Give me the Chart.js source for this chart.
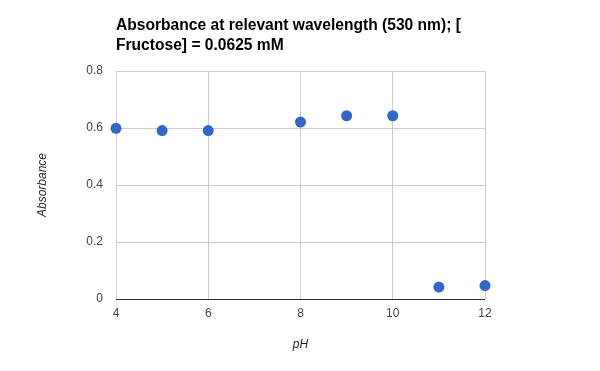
<!DOCTYPE html>
<html>
<head>
<meta charset="utf-8">
<script src="https://cdn.jsdelivr.net/npm/chart.js@4/dist/chart.umd.min.js"></script>
<style>
html,body{margin:0;padding:0;background:#fff;}
#wrap{width:600px;height:371px;position:relative;}
</style>
</head>
<body>
<div id="wrap"><canvas id="c" width="600" height="371"></canvas></div>
<script>
const titleLines = ["Absorbance at relevant wavelength (530 nm); [", "Fructose] = 0.0625 mM"];
const xAxisTitle = "pH";
const yAxisTitle = "Absorbance";
const phValues = [4, 5, 6, 8, 9, 10, 11, 12];
const absorbance = [0.599, 0.591, 0.591, 0.621, 0.643, 0.643, 0.042, 0.047];
const xTicks = [4, 6, 8, 10, 12];
const yTicks = [0, 0.2, 0.4, 0.6, 0.8];

const titlePlugin = {
  id: 'leftTitle',
  afterDraw(chart) {
    const ctx = chart.ctx;
    ctx.save();
    ctx.font = 'bold 15.6px "Liberation Sans", Arial, sans-serif';
    ctx.fillStyle = '#000';
    ctx.textBaseline = 'middle';
    ctx.textAlign = 'left';
    titleLines.forEach((t, i) => ctx.fillText(t, chart.chartArea.left, 25.5 + i * 20.5));
    ctx.restore();
  }
};

new Chart(document.getElementById('c'), {
  type: 'scatter',
  data: {
    datasets: [{
      data: phValues.map((x, i) => ({x: x, y: absorbance[i]})),
      backgroundColor: '#3366cc',
      borderWidth: 0,
      pointRadius: 5.5,
      pointHoverRadius: 5.5,
      clip: false
    }]
  },
  options: {
    responsive: false,
    animation: false,
    layout: {padding: {top: 71, right: 115, bottom: 0, left: 0}},
    plugins: {legend: {display: false}, tooltip: {enabled: false}, title: {display: false}},
    scales: {
      x: {
        type: 'linear', min: xTicks[0], max: xTicks[xTicks.length - 1],
        afterBuildTicks(s) { s.ticks = xTicks.map(v => ({value: v})); },
        afterFit(s) { s.height = 72; },
        border: {display: false},
        grid: {color: '#cccccc', drawTicks: false, lineWidth: 1},
        ticks: {padding: 7, color: '#444', font: {family: '"Liberation Sans", Arial, sans-serif', size: 12}, maxRotation: 0},
        title: {display: true, text: xAxisTitle, color: '#222', padding: {top: 0, bottom: 19},
          font: {family: '"Liberation Sans", Arial, sans-serif', size: 12, style: 'italic'}}
      },
      y: {
        min: yTicks[0], max: yTicks[yTicks.length - 1],
        afterBuildTicks(s) { s.ticks = yTicks.map(v => ({value: v})); },
        afterFit(s) { s.width = 116; },
        border: {display: false},
        grid: {color: c => c.tick && c.tick.value === 0 ? '#333333' : '#cccccc', drawTicks: false, lineWidth: 1},
        ticks: {padding: 13, color: '#444', font: {family: '"Liberation Sans", Arial, sans-serif', size: 12}},
        title: {display: true, text: yAxisTitle, color: '#222', padding: {top: 35, bottom: 0},
          font: {family: '"Liberation Sans", Arial, sans-serif', size: 12, style: 'italic'}}
      }
    }
  },
  plugins: [titlePlugin]
});
</script>
</body>
</html>
